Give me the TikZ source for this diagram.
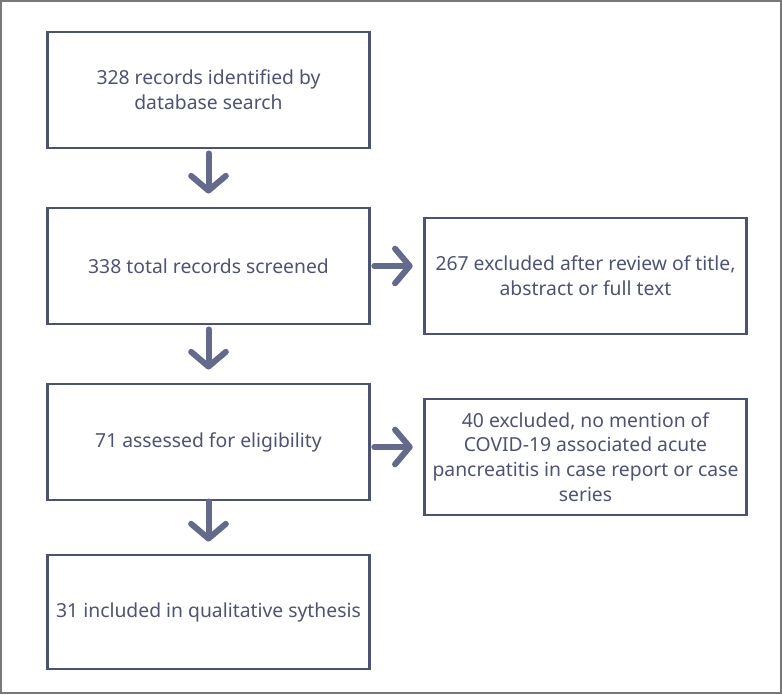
\documentclass[tikz,border=0pt]{standalone}
\usepackage{fontspec}
\setmainfont{Noto Sans}
\usetikzlibrary{arrows.meta, positioning}
\definecolor{boxline}{RGB}{76,82,114}
\definecolor{arrowcol}{RGB}{100,106,140}
\definecolor{txtcol}{RGB}{77,83,112}
\definecolor{framecol}{RGB}{120,120,120}

\tikzset{
  stagebox/.style={draw=boxline, line width=2.2pt, minimum width=242pt, minimum height=87pt,
    align=center, text=txtcol, inner sep=0pt, font=\fontsize{14.5}{18.5}\selectfont},
  flowarrow/.style={draw=arrowcol, line width=4.5pt, line cap=round,
    -{Straight Barb[length=11pt, width=26pt, round]}},
}

\begin{document}
\begin{tikzpicture}[x=0.75pt, y=-0.75pt]
\useasboundingbox (0,0) rectangle (782,694);
% Frame
\draw[framecol, line width=1.1pt] (1,1) rectangle (781,693);

% Stages
\node[stagebox] (found) at (208.5,90) {328 records identified by\\database search};
\node[stagebox] (screen) at (208.5,266) {338 total records screened};
\node[stagebox] (excl1) at (585.5,276) {267 excluded after review of title,\\abstract or full text};
\node[stagebox] (assess) at (208.5,442) {71 assessed for eligibility};
\node[stagebox] (excl2) at (585.5,457) {40 excluded, no mention of\\COVID-19 associated acute\\pancreatitis in case report or case\\series};
\node[stagebox, minimum height=85.5pt] (incl) at (208.5,612) {31 included in qualitative sythesis};

% Arrows
\draw[flowarrow, shorten <=3pt, shorten >=9.75pt] (found) -- (screen);
\draw[flowarrow, shorten <=3pt, shorten >=9.75pt] (screen) -- (assess);
\draw[flowarrow, shorten <=0pt, shorten >=9pt] (assess) -- (incl);
\draw[flowarrow, shorten <=2.25pt, shorten >=7.5pt] (screen.east) -- (screen.east -| excl1.west);
\draw[flowarrow, shorten <=2.25pt, shorten >=7.5pt] ([yshift=-3.75pt]assess.east) -- ([yshift=-3.75pt]assess.east -| excl2.west);
\end{tikzpicture}
\end{document}
